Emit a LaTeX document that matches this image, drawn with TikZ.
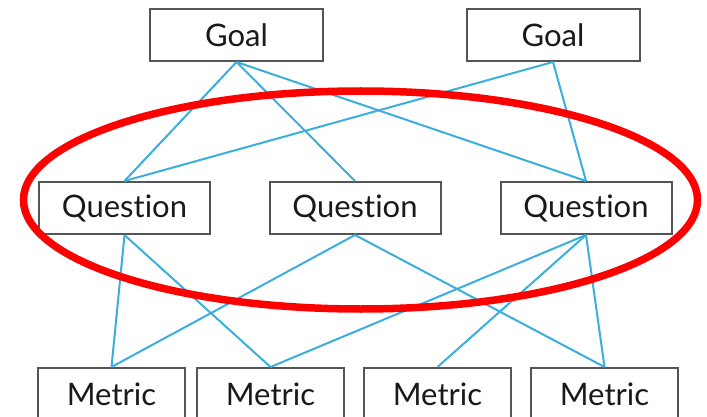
\documentclass[tikz,border=0pt]{standalone}
\usepackage{fontspec}
\setmainfont{Lato}[Ligatures={NoCommon,NoRare}]
\usepackage{xcolor}
\definecolor{boxgray}{HTML}{555555}
\definecolor{linkblue}{HTML}{3AAEDC}
\definecolor{ringred}{HTML}{FF0000}

\begin{document}
\begin{tikzpicture}[x=1pt,y=-1pt,
    box/.style={draw=boxgray, line width=2pt, fill=white, inner sep=0pt,
      minimum height=52pt, text=black!90,
      font=\fontsize{31}{36}\selectfont},
    goalbox/.style={box, minimum width=173pt},
    qbox/.style={box, minimum width=171pt},
    mbox/.style={box, minimum width=147pt},
    link/.style={linkblue, line width=2pt}]
  \useasboundingbox (0,0) rectangle (707,417);
  \clip (0,0) rectangle (707,417);

  \node[goalbox] (g1) at (236.5,35) {Goal};
  \node[goalbox] (g2) at (553,35) {Goal};

  \node[qbox] (q1) at (124.5,208) {Question};
  \node[qbox] (q2) at (355,208) {Question};
  \node[qbox] (q3) at (586,208) {Question};

  \node[mbox] (m1) at (111.5,394) {Metric};
  \node[mbox] (m2) at (270.5,394) {Metric};
  \node[mbox] (m3) at (437.5,394) {Metric};
  \node[mbox] (m4) at (604.5,394) {Metric};

  % goals to questions
  \draw[link] (g1.south) -- (q1.north);
  \draw[link] (g1.south) -- (q2.north);
  \draw[link] (g1.south) -- (q3.north);
  \draw[link] (g2.south) -- (q1.north);
  \draw[link] (g2.south) -- (q3.north);

  % questions to metrics
  \draw[link] (q1.south) -- (m1.north);
  \draw[link] (q1.south) -- (m2.north);
  \draw[link] (q2.south) -- (m1.north);
  \draw[link] (q2.south) -- (m4.north);
  \draw[link] (q3.south) -- (m2.north);
  \draw[link] (q3.south) -- (m3.north);
  \draw[link] (q3.south) -- (m4.north);

  \draw[ringred, line width=7.5pt] (360.5,200) ellipse [x radius=337, y radius=109];
\end{tikzpicture}
\end{document}
